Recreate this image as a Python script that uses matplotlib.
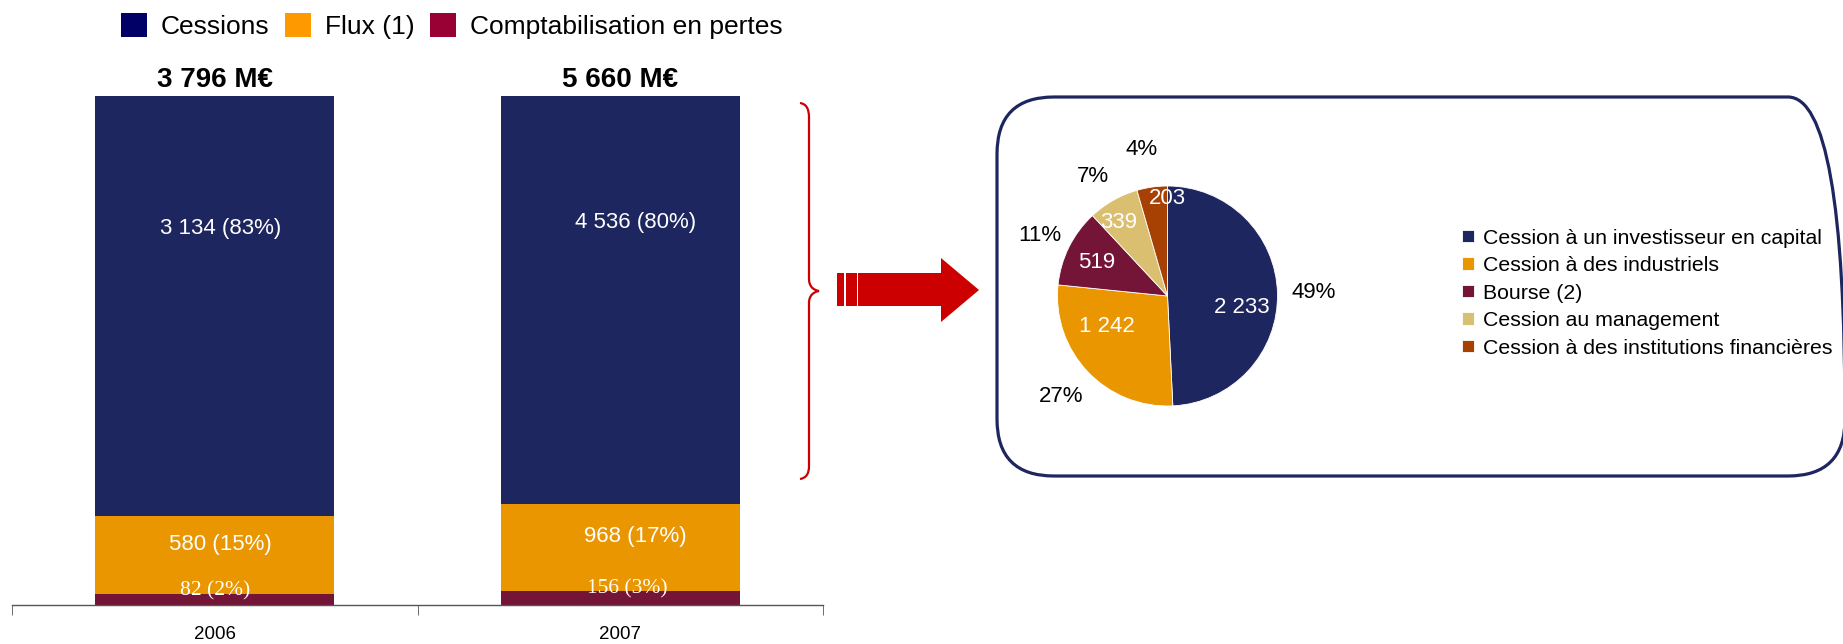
import matplotlib
matplotlib.use('Agg')
import matplotlib.pyplot as plt
import numpy as np
from matplotlib.patches import Patch, FancyBboxPatch, Polygon, PathPatch
from matplotlib.path import Path

# ---------------- data ----------------
years = ['2006', '2007']
series_names = ['Cessions', 'Flux (1)', 'Comptabilisation en pertes']
cessions = [3134, 4536]
flux = [580, 968]
pertes = [82, 156]

pie_labels = ['Cession à un investisseur en capital', 'Cession à des industriels',
              'Bourse (2)', 'Cession au management',
              'Cession à des institutions financières']
pie_values = [2233, 1242, 519, 339, 203]

# ---------------- style ----------------
W, H, DPI = 1843, 644, 100
bar_colors = ['#1D265E', '#E99600', '#741436']     # cessions, flux, pertes
legend_colors = ['#000066', '#FF9900', '#990033']
pie_colors = ['#1D265E', '#E99600', '#741436', '#DBBF70', '#A64003']
RED = '#CC0000'
SANS = ['Liberation Sans', 'DejaVu Sans']
SERIF = ['Liberation Serif', 'DejaVu Serif']

plt.rcParams['font.family'] = SANS


def fmt(v):
    return '{:,}'.format(v).replace(',', ' ')


def px_rect(x0, y0, x1, y1):
    return [x0 / W, 1 - y1 / H, (x1 - x0) / W, (y1 - y0) / H]


def inch(x, y):
    return (x / DPI, (H - y) / DPI)


fig = plt.figure(figsize=(W / DPI, H / DPI), dpi=DPI)

# ---------------- stacked 100% bars ----------------
ax = fig.add_axes(px_rect(12, 96, 823, 605))
x = np.arange(len(years))
tot = np.array(cessions) + np.array(flux) + np.array(pertes)
p_pertes = np.array(pertes) / tot * 100
p_flux = np.array(flux) / tot * 100
p_cess = np.array(cessions) / tot * 100
bw = 0.59
ax.bar(x, p_pertes, bw, color=bar_colors[2], linewidth=0)
ax.bar(x, p_flux, bw, bottom=p_pertes, color=bar_colors[1], linewidth=0)
ax.bar(x, p_cess, bw, bottom=p_pertes + p_flux, color=bar_colors[0], linewidth=0)
ax.set_xlim(-0.5, 1.5)
ax.set_ylim(0, 100)
for s in ['top', 'left', 'right']:
    ax.spines[s].set_visible(False)
ax.spines['bottom'].set_color('#555555')
ax.spines['bottom'].set_linewidth(1)
ax.set_yticks([])
ax.set_xticks(x)
ax.set_xticklabels(years, fontsize=13.5)
ax.tick_params(axis='x', which='major', length=0, pad=15)
ax.set_xticks([-0.5, 0.5, 1.5], minor=True)
ax.tick_params(axis='x', which='minor', length=7, direction='out', color='#555555')

label_dx = [4, 11]      # horizontal nudge (points) of in-bar labels, per bar
serif_dx = [0, 5]
for i in range(len(years)):
    c = p_pertes[i] + p_flux[i] + p_cess[i] / 2
    ax.annotate(f'{fmt(cessions[i])} ({round(p_cess[i])}%)', (x[i], c),
                xytext=(label_dx[i], 56), textcoords='offset points', ha='center',
                va='center', color='white', fontsize=16)
    c = p_pertes[i] + p_flux[i] / 2
    ax.annotate(f'{fmt(flux[i])} ({round(p_flux[i])}%)', (x[i], c),
                xytext=(label_dx[i], 8), textcoords='offset points', ha='center',
                va='center', color='white', fontsize=16)
    c = p_pertes[i] / 2
    ax.annotate(f'{fmt(pertes[i])} ({round(p_pertes[i])}%)', (x[i], c),
                xytext=(serif_dx[i], 6.5), textcoords='offset points', ha='center',
                va='center', color='white', fontsize=15.5, family=SERIF)
    ax.annotate(f'{fmt(int(tot[i]))} M€', (x[i], 100), xytext=(0, 11.5),
                textcoords='offset points', ha='center', va='center',
                fontsize=20, fontweight='bold')

handles = [Patch(facecolor=c, edgecolor='none') for c in legend_colors]
fig.legend(handles, series_names, loc='upper left', bbox_to_anchor=(113 / W, 1 - 5 / H),
           ncol=3, frameon=False, fontsize=19, handlelength=1.0, handleheight=1.0,
           handletextpad=0.5, columnspacing=0.6, borderaxespad=0, borderpad=0.3)

# ---------------- brace + arrow ----------------
bp = [inch(*p) for p in [
    (800, 103), (806, 104), (809, 108), (809, 118),
    (809, 279),
    (809, 286), (813, 290), (819, 291),
    (813, 292), (809, 296), (809, 303),
    (809, 466),
    (809, 474), (806, 478), (800, 479)]]
codes = [Path.MOVETO, Path.CURVE4, Path.CURVE4, Path.CURVE4, Path.LINETO,
         Path.CURVE4, Path.CURVE4, Path.CURVE4,
         Path.CURVE4, Path.CURVE4, Path.CURVE4, Path.LINETO,
         Path.CURVE4, Path.CURVE4, Path.CURVE4]
fig.add_artist(PathPatch(Path(bp, codes), facecolor='none', edgecolor=RED, lw=1.6,
                         transform=fig.dpi_scale_trans))

arrow = [inch(*p) for p in [(858, 273), (941, 273), (941, 258), (979, 290),
                            (941, 322), (941, 306), (858, 306)]]
fig.add_artist(Polygon(arrow, closed=True, facecolor=RED, edgecolor='none',
                       transform=fig.dpi_scale_trans))
for x0, x1 in [(837, 844), (846, 857)]:
    st = [inch(*p) for p in [(x0, 273), (x1, 273), (x1, 306), (x0, 306)]]
    fig.add_artist(Polygon(st, closed=True, facecolor=RED, edgecolor='none',
                           transform=fig.dpi_scale_trans))

# ---------------- rounded box ----------------
bx0, by0 = inch(997, 476)
bx1, by1 = inch(1845, 97)
fig.add_artist(FancyBboxPatch((bx0, by0), bx1 - bx0, by1 - by0,
                              boxstyle='round,pad=0,rounding_size=0.57',
                              facecolor='none', edgecolor='#1D265E', lw=2.3,
                              transform=fig.dpi_scale_trans))

# ---------------- pie ----------------
pax = fig.add_axes(px_rect(1017.5, 146, 1317.5, 446))
L = 150 / 110
wedges, _ = pax.pie(pie_values, colors=pie_colors, startangle=90, counterclock=False,
                    radius=1, wedgeprops=dict(edgecolor='white', linewidth=0.6))
pax.set_xlim(-L, L)
pax.set_ylim(-L, L)
pax.set_aspect('equal')
pax.axis('off')
ptot = sum(pie_values)
val_pos = [(0.68, -10), (0.62, -17), (0.71, 1), (0.80, 4), (0.89, -8)]
pct_pos = [(1.33, 0), (1.33, 0), (1.28, 1), (1.28, 2.5), (1.35, 2)]
for w, v, (d, da), (pd_, pa) in zip(wedges, pie_values, val_pos, pct_pos):
    mid = (w.theta1 + w.theta2) / 2
    a = np.deg2rad(mid + da)
    pax.text(d * np.cos(a), d * np.sin(a), fmt(v), ha='center', va='center',
             color='white', fontsize=16)
    a = np.deg2rad(mid + pa)
    pax.text(pd_ * np.cos(a), pd_ * np.sin(a), f'{round(v / ptot * 100)}%',
             ha='center', va='center', color='black', fontsize=16)

fig.legend(wedges, pie_labels, loc='center left', bbox_to_anchor=(1462 / W, 1 - 293 / H),
           frameon=False, fontsize=15.3, handlelength=0.55, handleheight=0.55,
           handletextpad=0.45, labelspacing=0.4, borderaxespad=0, borderpad=0)

fig.savefig('out.png', dpi=DPI)
